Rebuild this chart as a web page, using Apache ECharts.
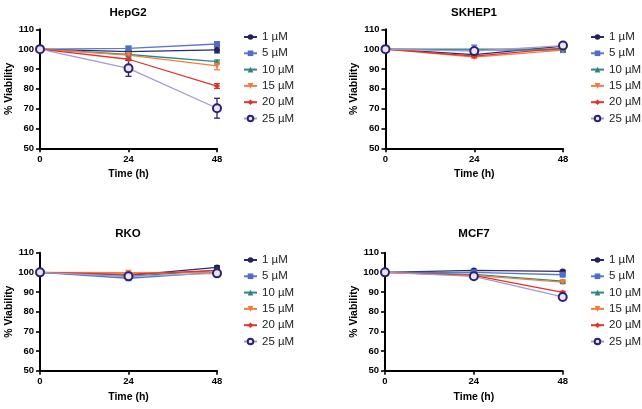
<!DOCTYPE html>
<html><head><meta charset="utf-8">
<script src="https://cdn.jsdelivr.net/npm/echarts@6/dist/echarts.min.js"></script>
<style>html,body{margin:0;padding:0;background:#fff}#c{width:642px;height:409px}</style>
</head><body><div id="c"></div>
<script>
const times = [0, 24, 48];
const concs = ['1 µM', '5 µM', '10 µM', '15 µM', '20 µM', '25 µM'];
const panels = ['HepG2', 'SKHEP1', 'RKO', 'MCF7'];
const yTicks = [50, 60, 70, 80, 90, 100, 110];
const xTicks = [0, 24, 48];

// mean % viability per concentration at 0, 24, 48 h
const hepg2Mean = [[100, 98.7, 99.6], [100, 100.4, 102.6], [100, 97.3, 93.7], [100, 97.0, 91.6], [100, 94.9, 81.4], [100, 90.3, 70.2]];
const hepg2Err  = [[0, 0.6, 1.5], [0, 0.8, 0.8], [0, 0.5, 0.8], [0, 0.5, 2.0], [0, 0.5, 1.2], [0, 4.0, 5.0]];
const skhep1Mean = [[100, 97.2, 101.5], [100, 99.5, 99.5], [100, 100.0, 100.0], [100, 96.0, 99.5], [100, 96.5, 100.5], [100, 99.0, 101.8]];
const skhep1Err  = [[0, 0.8, 0.8], [0, 2.5, 0.8], [0, 0.5, 0.5], [0, 0.6, 0.6], [0, 0.6, 0.6], [0, 1.0, 1.5]];
const rkoMean = [[100, 98.5, 102.5], [100, 97.0, 100.0], [100, 98.0, 101.0], [100, 99.8, 100.0], [100, 99.0, 101.0], [100, 98.0, 99.5]];
const rkoErr  = [[0, 0.6, 0.8], [0, 0.8, 0.6], [0, 0.5, 0.5], [0, 1.0, 0.5], [0, 0.5, 0.5], [0, 0.6, 0.8]];
const mcf7Mean = [[100, 101.0, 100.5], [100, 100.0, 98.8], [100, 99.0, 95.5], [100, 98.5, 95.0], [100, 98.5, 89.8], [100, 98.0, 87.5]];
const mcf7Err  = [[0, 0.5, 0.5], [0, 0.5, 0.5], [0, 0.5, 0.5], [0, 0.5, 0.5], [0, 0.5, 0.5], [0, 0.6, 0.8]];

const means = [hepg2Mean, skhep1Mean, rkoMean, mcf7Mean];
const errs = [hepg2Err, skhep1Err, rkoErr, mcf7Err];

const FONT = '"Liberation Sans", Arial, Helvetica, sans-serif';
const styles = [
  {symbol: 'circle', size: 6, color: '#25205f', line: '#2b2a6c', border: '#25205f', bw: 0, rot: 0, err: '#25205f'},
  {symbol: 'rect', size: 6, color: '#4f6fc6', line: '#5a78cc', border: '#4f6fc6', bw: 0, rot: 0, err: '#4f6fc6'},
  {symbol: 'triangle', size: 6, color: '#25857d', line: '#2a8a82', border: '#25857d', bw: 0, rot: 0, err: '#25857d'},
  {symbol: 'triangle', size: 6, color: '#f5793a', line: '#f27f3d', border: '#f5793a', bw: 0, rot: 180, err: '#f5793a'},
  {symbol: 'diamond', size: 6, color: '#e2322b', line: '#e2322b', border: '#e2322b', bw: 0, rot: 0, err: '#e2322b'},
  {symbol: 'circle', size: 8, color: '#ebe6f7', line: '#a898d2', border: '#2d2270', bw: 2, rot: 0, err: '#2d2270'}
];

const grids = [
  {left: 40, top: 29.3, width: 177, height: 119},
  {left: 385.5, top: 29.3, width: 177.5, height: 119},
  {left: 40, top: 252.7, width: 177, height: 118},
  {left: 385, top: 252.7, width: 177.7, height: 118}
];
const titlePos = [[128, 6.5], [474, 6.5], [128, 228], [474, 228]];
const legendPos = [[243, 31], [590, 31], [243, 254], [590, 254]];

const axisLine = {show: true, onZero: false, lineStyle: {color: '#000', width: 2}};
const axisTick = {show: true, inside: false, length: 4, lineStyle: {color: '#000', width: 1.6}};
const labelStyle = {color: '#000', fontWeight: 'bold', fontSize: 9.5, fontFamily: FONT};
const nameStyle = {color: '#000', fontWeight: 'bold', fontSize: 10.5, fontFamily: FONT};

function renderErr(params, api) {
  const x = api.value(0), lo = api.value(1), hi = api.value(2);
  const a = api.coord([x, lo]), b = api.coord([x, hi]);
  const w = 3;
  const style = {stroke: api.visual('color'), lineWidth: 1.3};
  return {type: 'group', children: [
    {type: 'line', shape: {x1: a[0], y1: a[1], x2: b[0], y2: b[1]}, style},
    {type: 'line', shape: {x1: a[0] - w, y1: a[1], x2: a[0] + w, y2: a[1]}, style},
    {type: 'line', shape: {x1: b[0] - w, y1: b[1], x2: b[0] + w, y2: b[1]}, style}
  ]};
}

const option = {
  animation: false,
  grid: grids,
  title: panels.map((p, i) => ({
    text: p, left: titlePos[i][0], top: titlePos[i][1], textAlign: 'center', padding: 0,
    textStyle: {fontSize: 11.5, fontWeight: 'bold', color: '#000', fontFamily: FONT}
  })),
  legend: panels.map((p, i) => ({
    data: concs, orient: 'vertical', left: legendPos[i][0], top: legendPos[i][1],
    itemWidth: 13, itemHeight: 7, itemGap: 4.3, padding: 0, selectedMode: false,
    textStyle: {fontSize: 11.5, color: '#222', fontFamily: FONT, lineHeight: 12}
  })),
  xAxis: panels.map((p, i) => ({
    type: 'value', gridIndex: i, min: 0, max: 48, interval: 24,
    name: 'Time (h)', nameLocation: 'middle', nameGap: 20.5, nameTextStyle: nameStyle,
    axisLine, axisTick, splitLine: {show: false},
    axisLabel: Object.assign({margin: 6, formatter: v => xTicks.includes(v) ? String(v) : ''}, labelStyle)
  })),
  yAxis: panels.map((p, i) => ({
    type: 'value', gridIndex: i, min: 50, max: 110, interval: 10,
    name: '% Viability', nameLocation: 'middle', nameGap: 23, nameTextStyle: nameStyle,
    axisLine, axisTick, splitLine: {show: false},
    axisLabel: Object.assign({margin: 6, formatter: v => yTicks.includes(v) ? String(v) : ''}, labelStyle)
  })),
  series: []
};

panels.forEach((p, i) => {
  concs.forEach((c, k) => {
    const s = styles[k];
    option.series.push({
      type: 'custom', xAxisIndex: i, yAxisIndex: i, z: 2, silent: true,
      itemStyle: {color: s.err},
      renderItem: renderErr,
      encode: {x: 0, y: [1, 2]},
      data: times.map((t, j) => [t, means[i][k][j] - errs[i][k][j], means[i][k][j] + errs[i][k][j]]).filter((d, j) => errs[i][k][j] > 0)
    });
  });
  concs.forEach((c, k) => {
    const s = styles[k];
    option.series.push({
      type: 'line', name: c, xAxisIndex: i, yAxisIndex: i, z: 3, clip: false,
      symbol: s.symbol, symbolSize: s.size, symbolRotate: s.rot, showAllSymbol: true,
      lineStyle: {color: s.line, width: 1.3},
      itemStyle: {color: s.color, borderColor: s.border, borderWidth: s.bw},
      data: times.map((t, j) => [t, means[i][k][j]])
    });
  });
});

const chart = echarts.init(document.getElementById('c'), null, {renderer: 'canvas'});
chart.setOption(option);
</script>
</body></html>
